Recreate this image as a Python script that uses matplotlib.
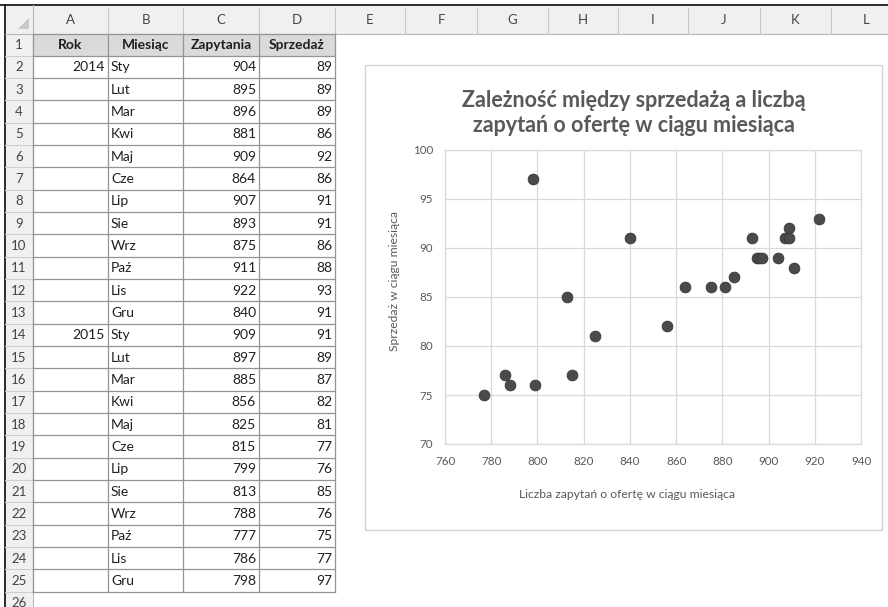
import matplotlib
matplotlib.use('Agg')
import matplotlib.pyplot as plt
from matplotlib.patches import Rectangle, Polygon

plt.rcParams['font.family'] = ['Lato', 'DejaVu Sans']

# table data
years = ['2014', '', '', '', '', '', '', '', '', '', '', '',
         '2015', '', '', '', '', '', '', '', '', '', '', '']
months = ['Sty', 'Lut', 'Mar', 'Kwi', 'Maj', 'Cze', 'Lip', 'Sie', 'Wrz', 'Paź', 'Lis', 'Gru',
          'Sty', 'Lut', 'Mar', 'Kwi', 'Maj', 'Cze', 'Lip', 'Sie', 'Wrz', 'Paź', 'Lis', 'Gru']
zapytania = [904, 895, 896, 881, 909, 864, 907, 893, 875, 911, 922, 840,
             909, 897, 885, 856, 825, 815, 799, 813, 788, 777, 786, 798]
sprzedaz = [89, 89, 89, 86, 92, 86, 91, 91, 86, 88, 93, 91,
            91, 89, 87, 82, 81, 77, 76, 85, 76, 75, 77, 97]
headers = ['Rok', 'Miesiąc', 'Zapytania', 'Sprzedaż']
col_letters = ['A', 'B', 'C', 'D', 'E', 'F', 'G', 'H', 'I', 'J', 'K', 'L']

title = 'Zależność między sprzedażą a liczbą\nzapytań o ofertę w ciągu miesiąca'
xlabel = 'Liczba zapytań o ofertę w ciągu miesiąca'
ylabel = 'Sprzedaż w ciągu miesiąca'

W, H = 888, 607
fig = plt.figure(figsize=(W / 100, H / 100), dpi=100)
bg = fig.add_axes([0, 0, 1, 1])
bg.set_xlim(0, W)
bg.set_ylim(H, 0)
bg.axis('off')

# sheet geometry (pixels)
col_edges = [33, 108, 183, 259, 335, 405, 477, 548, 618, 688, 760, 831, 902]
row_top = 33.5
row_h = 22.33
hdr_top = 5
n_rows = 26

txt = '#1f1f1f'
grid_c = '#959595'

# column header strip and row header strip
bg.add_patch(Rectangle((5, hdr_top), W, row_top - hdr_top, fc='#f0f0f0', ec='none'))
bg.add_patch(Rectangle((5, row_top), 28, H, fc='#f0f0f0', ec='none'))
bg.plot([0, W], [hdr_top, hdr_top], color='#1a1a1a', lw=1.3)
bg.plot([5, 5], [hdr_top, H], color='#1a1a1a', lw=1.3)
bg.plot([5, W], [row_top, row_top], color='#b8b8b8', lw=0.8)
bg.plot([33, 33], [hdr_top, H], color='#b8b8b8', lw=0.8)
bg.add_patch(Polygon([[29, 29], [29, 18], [18, 29]], closed=True, fc='#c8c8c8', ec='none'))
for x in col_edges[1:-1]:
    bg.plot([x, x], [hdr_top + 3, row_top], color='#c8c8c8', lw=0.8)
for i, c in enumerate(col_letters):
    bg.text((col_edges[i] + col_edges[i + 1]) / 2, 19.5, c, ha='center', va='center',
            fontsize=9.5, color='#444444')
for r in range(n_rows):
    y0 = row_top + r * row_h
    bg.text(19, y0 + row_h / 2 + 0.5, str(r + 1), ha='center', va='center', fontsize=9.5, color='#444444')
    bg.plot([5, 33], [y0 + row_h, y0 + row_h], color='#cfcfcf', lw=0.8)

# header row fill
bg.add_patch(Rectangle((col_edges[0], row_top), col_edges[4] - col_edges[0], row_h,
                       fc='#dadada', ec='none'))
table_bottom = row_top + 25 * row_h
for r in range(26):
    y = row_top + r * row_h
    bg.plot([col_edges[0], col_edges[4]], [y, y], color=grid_c, lw=0.9)
for x in col_edges[:5]:
    bg.plot([x, x], [row_top, table_bottom], color=grid_c, lw=0.9)

for i, h in enumerate(headers):
    bg.text((col_edges[i] + col_edges[i + 1]) / 2, row_top + row_h / 2 + 0.5, h,
            ha='center', va='center', fontsize=10, fontweight='bold', color=txt)
for k in range(len(months)):
    yc = row_top + (k + 1) * row_h + row_h / 2 + 0.5
    if years[k]:
        bg.text(col_edges[1] - 3, yc, years[k], ha='right', va='center', fontsize=10, color=txt)
    bg.text(col_edges[1] + 3, yc, months[k], ha='left', va='center', fontsize=10, color=txt)
    bg.text(col_edges[3] - 3, yc, str(zapytania[k]), ha='right', va='center', fontsize=10, color=txt)
    bg.text(col_edges[4] - 3, yc, str(sprzedaz[k]), ha='right', va='center', fontsize=10, color=txt)

# chart container
bg.add_patch(Rectangle((365, 65), 517, 465, fc='white', ec='#d4d4d4', lw=1.0))
bg.text(634, 113, title, ha='center', va='center', fontsize=15.5, fontweight='bold',
        color='#595959', linespacing=1.22)
bg.text(627, 494, xlabel, ha='center', va='center', fontsize=8.7, color='#595959')
bg.text(394, 281, ylabel, ha='center', va='center', rotation=90, fontsize=8.7, color='#595959')

ax = fig.add_axes([445 / W, 1 - 444 / H, (861 - 445) / W, (444 - 150) / H])
ax.set_facecolor('none')
ax.scatter(zapytania, sprzedaz, s=60, color='#4a4a4a', edgecolors='#383838', linewidths=0.6, zorder=3)
ax.set_xlim(760, 940)
ax.set_ylim(70, 100)
ax.set_xticks(range(760, 941, 20))
ax.set_yticks(range(70, 101, 5))
ax.grid(True, color='#d9d9d9', lw=0.9)
ax.set_axisbelow(True)
for s in ax.spines.values():
    s.set_color('#d9d9d9')
    s.set_linewidth(0.9)
ax.tick_params(length=0, labelsize=8.4, labelcolor='#595959')
ax.tick_params(axis='x', pad=8.5)
ax.tick_params(axis='y', pad=8.5)

fig.savefig('out.png', dpi=100)
